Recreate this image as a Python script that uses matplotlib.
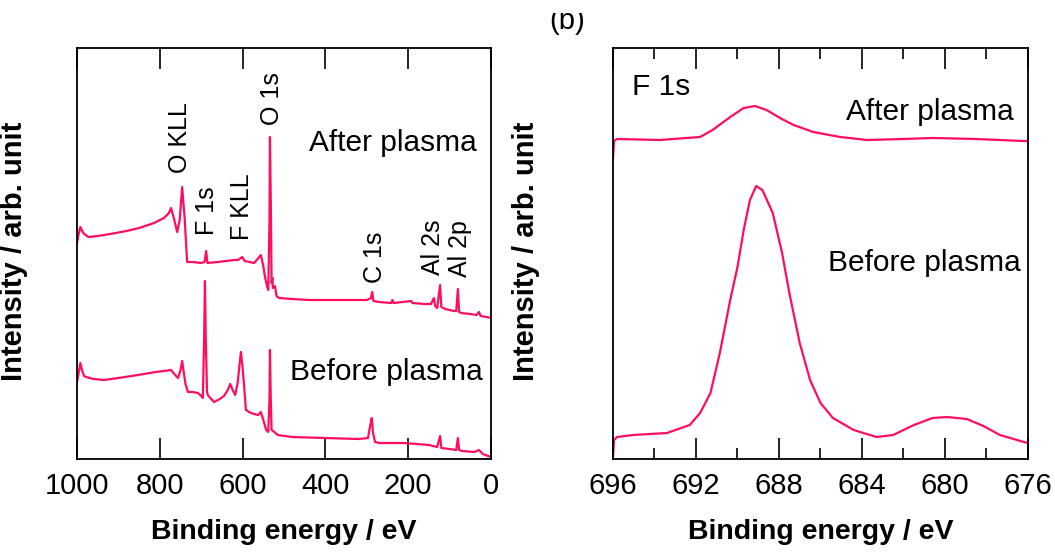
import numpy as np
import matplotlib.pyplot as plt
from matplotlib.patches import Rectangle

plt.rcParams['font.family'] = ['Liberation Sans', 'DejaVu Sans']

# survey spectra (binding energy / eV, intensity arb.)
survey_after_e = [1000, 996, 992, 985, 973, 950, 920, 880, 850, 814, 790, 778, 773, 765, 758, 752, 746, 743, 740, 736,
                  734, 720, 700, 692, 688, 685, 660, 640, 620, 611, 601, 595, 572, 562, 556, 550, 546, 541, 538, 535,
                  534, 532, 530, 528, 527, 522, 518, 512, 480, 440, 400, 350, 300, 290, 287, 284, 270, 241, 238, 235,
                  193, 190, 160, 145, 138, 135, 130, 123, 120, 110, 90, 84, 80, 77, 72, 50, 35, 29, 25, 10, 0]
survey_after_i = [215, 224, 231, 225, 221, 222, 224, 227, 230, 235, 240, 245, 250, 238, 226, 238, 271, 255, 240, 210,
                  196, 196, 195, 196, 207, 195, 196, 197, 198, 198, 201, 197, 195, 200, 203, 192, 181, 172, 168, 240,
                  321, 260, 175, 180, 170, 172, 162, 160, 159, 158, 158, 158, 158, 160, 166, 157, 156, 155, 158, 155,
                  157, 155, 154, 154, 160, 152, 150, 173, 151, 149, 147, 147, 169, 146, 145, 144, 143, 146, 142, 141, 140]

survey_before_e = [1000, 996, 992, 988, 983, 978, 960, 935, 900, 853, 810, 790, 773, 765, 756, 750, 746, 742, 738, 732,
                   720, 708, 700, 696, 693, 691, 689, 686, 684, 678, 669, 655, 645, 636, 630, 624, 618, 612, 607, 604,
                   600, 596, 592, 580, 563, 556, 550, 543, 538, 535, 534, 532, 530, 526, 515, 480, 400, 320, 297, 293,
                   290, 288, 285, 280, 270, 210, 150, 130, 123, 120, 100, 84, 80, 77, 70, 40, 29, 20, 0]
survey_before_i = [76, 85, 95, 88, 82, 81, 79, 78, 80, 83, 86, 87, 88, 84, 80, 88, 97, 85, 74, 66,
                   66, 65, 62, 60, 120, 177, 120, 66, 63, 60, 56, 59, 62, 68, 74, 68, 63, 75, 95, 106,
                   90, 70, 48, 45, 43, 46, 38, 28, 26, 60, 108, 60, 28, 27, 23, 21, 20, 19, 20, 30,
                   36, 40, 25, 16, 15, 15, 13, 11, 22, 10, 9, 8, 20, 8, 7, 6, 8, 4, 1]

# F 1s narrow scan
f1s_after_e = [696.0, 695.95, 695.8, 693.75, 691.8, 691.2, 690.35, 689.7, 689.15, 688.6, 687.95, 687.3, 686.35,
               685.05, 683.75, 682.0, 680.6, 678.5, 676.25, 676.0]
f1s_after_i = [299, 318, 320, 319, 322, 329, 342, 351, 353, 349, 341, 334, 327,
               322, 319, 320, 321, 320, 318, 318]

f1s_before_e = [696.0, 695.95, 695.8, 695.04, 693.4, 692.3, 691.8, 691.3, 690.85, 690.35, 690.0, 689.7, 689.4,
                689.1, 688.8, 688.3, 687.85, 687.5, 687.0, 686.5, 686.0, 685.4, 684.4, 683.3, 682.5, 681.5,
                680.6, 679.9, 678.95, 678.15, 677.35, 676.2, 676.0]
f1s_before_i = [1, 19, 22, 24, 26, 34, 46, 66, 106, 159, 192, 229, 259,
                273, 269, 246, 206, 166, 116, 79, 56, 41, 29, 22, 24, 34,
                41, 42, 40, 33, 24, 17, 16]

peak_names = ['O KLL', 'O 1s', 'F 1s', 'F KLL', 'C 1s', 'Al 2s', 'Al 2p']
peak_e = [751, 530, 686, 601, 280, 140, 75]
peak_y = [285, 333, 223, 218, 175, 183, 181]

col = '#ff0d5e'

fig = plt.figure(figsize=(10.55, 5.58), dpi=100)
ax1 = fig.add_axes([0.073, 0.1774, 0.3924, 0.7366])
ax2 = fig.add_axes([0.581, 0.1774, 0.3934, 0.7366])

ax1.plot(survey_after_e, survey_after_i, color=col, lw=1.6)
ax1.plot(survey_before_e, survey_before_i, color=col, lw=1.6)
ax1.set_xlim(1000, 0)
ax1.set_ylim(-1, 410)
ax1.set_xticks([1000, 800, 600, 400, 200, 0])
for name, e, y in zip(peak_names, peak_e, peak_y):
    ax1.text(e, y, name, rotation=90, ha='center', va='bottom', fontsize=18)
ax1.text(34, 315, 'After plasma', ha='right', va='center', fontsize=21.5)
ax1.text(19, 86, 'Before plasma', ha='right', va='center', fontsize=21.5)

ax2.plot(f1s_after_e, f1s_after_i, color=col, lw=1.6)
ax2.plot(f1s_before_e, f1s_before_i, color=col, lw=1.6)
ax2.set_xlim(696, 676)
ax2.set_ylim(0, 411)
ax2.set_xticks([696, 692, 688, 684, 680, 676])
ax2.set_xticks(np.arange(694, 676, -4), minor=True)
ax2.text(695.1, 372, 'F 1s', ha='left', va='center', fontsize=21.5)
ax2.text(676.7, 347, 'After plasma', ha='right', va='center', fontsize=21.5)
ax2.text(676.35, 196, 'Before plasma', ha='right', va='center', fontsize=21.5)

for ax, lx in [(ax1, -0.118), (ax2, -0.176)]:
    ax.set_yticks([])
    ax.tick_params(axis='x', which='major', direction='in', top=True, length=15, width=1.2,
                   labelsize=21, pad=9)
    ax.tick_params(axis='x', which='minor', direction='in', top=True, length=8, width=1.2)
    for s in ax.spines.values():
        s.set_linewidth(1.3)
    ax.set_xlabel('Binding energy / eV', fontsize=20.5, fontweight='bold', labelpad=14)
    ax.set_ylabel('Intensity / arb. unit', fontsize=21, fontweight='bold')
    ax.yaxis.set_label_coords(lx, 0.506)

fig.text(0.538, 1 - 29 / 558, '(b)', ha='center', va='baseline', fontsize=21)
fig.add_artist(Rectangle((0, 1 - 13 / 558), 1, 13 / 558, transform=fig.transFigure,
                         facecolor='white', edgecolor='none', zorder=10))

plt.savefig('out.png', dpi=100)
